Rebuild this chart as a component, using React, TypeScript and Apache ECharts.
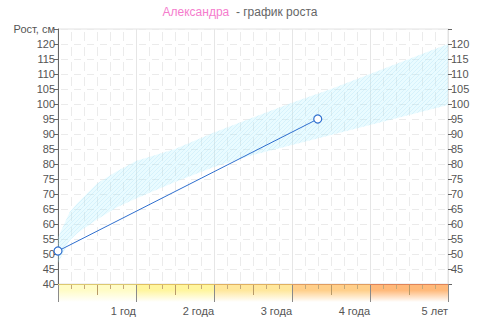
import React, { useEffect, useRef } from "react";
import * as echarts from "echarts";

// Ages in years
const bandAges = [0, 0.15, 0.25, 0.5, 0.75, 1, 1.5, 2, 2.5, 3, 3.5, 4, 4.5, 5];
const bandLower = [47, 54.5, 57, 61.5, 65.5, 68.5, 74, 79, 83, 86.3, 89.7, 93, 96.3, 99.7];
const bandUpper = [55.5, 64, 67, 73.5, 77.5, 81, 85, 90.5, 95.5, 100.4, 105, 110, 115, 120];

const childAges = [0, 3.33];
const childHeights = [51, 95];

const years = [0, 1, 2, 3, 4, 5];
const yearLabels: Record<number, string> = { 1: "1 год", 2: "2 года", 3: "3 года", 4: "4 года", 5: "5 лет" };
const yearColors = ["#fffcc6", "#fff59e", "#ffe79c", "#ffcf8a", "#ffb97a"];
const yearBorderColors = ["#dcc870", "#e0c060", "#e0b060", "#e09c60", "#e08458"];
const halfYears = [0.5, 1.5, 2.5, 3.5, 4.5];
const twoMonthTicks = [1, 2, 4, 5].flatMap((m) => years.slice(0, 5).map((y) => y + m / 6));
const titleName = "Александра";
const titleRest = "  - график роста";
const yName = "Рост, см";

const FONT = "Liberation Sans";

export default function App() {
  const ref = useRef<HTMLDivElement>(null);
  useEffect(() => {
    if (!ref.current) return;
    const chart = echarts.init(ref.current, undefined, { renderer: "svg" });
    const tickLine = (x: number, yEnd: number, color: string) => [
      { coord: [x, 1], lineStyle: { color, width: 1, type: "solid" } },
      { coord: [x, yEnd] },
    ];
    const renderBand = (params: any, api: any) => {
      const up = bandAges.map((a, i) => api.coord([a, bandUpper[i]]));
      const lo = bandAges.map((a, i) => api.coord([a, bandLower[i]])).reverse();
      const pts = up.concat(lo);
      const xs = pts.map((p: number[]) => p[0]);
      const ys = pts.map((p: number[]) => p[1]);
      const minX = Math.min(...xs);
      const maxX = Math.max(...xs);
      const minY = Math.min(...ys);
      const maxY = Math.max(...ys);
      const h = maxY - minY;
      const lines: any[] = [];
      for (let k = minX - h; k <= maxX; k += 4) {
        lines.push({
          type: "line",
          shape: { x1: k, y1: maxY, x2: k + h, y2: minY },
          style: { stroke: "rgba(140,210,240,0.2)", lineWidth: 1 },
        });
      }
      return {
        type: "group",
        children: [
          {
            type: "polygon",
            shape: { points: pts },
            style: { fill: "rgba(175,240,255,0.27)" },
          },
          {
            type: "group",
            clipPath: { type: "polygon", shape: { points: pts } },
            children: lines,
          },
        ],
      };
    };
    const option: any = {
      animation: false,
      textStyle: { fontFamily: FONT },
      title: {
        text: "{a|" + titleName + "}{b|" + titleRest + "}",
        left: "center",
        top: 1,
        textStyle: {
          fontSize: 12,
          fontWeight: "normal",
          rich: {
            a: { color: "#f57ccd", fontSize: 12, fontFamily: FONT },
            b: { color: "#666", fontSize: 12, fontFamily: FONT },
          },
        },
      },
      grid: [
        { left: 58, right: 32, top: 29, height: 255, show: true, borderColor: "#e2e2e2", borderWidth: 1 },
        { left: 58, right: 32, top: 284, height: 18 },
      ],
      xAxis: [
        {
          gridIndex: 0,
          type: "value",
          min: 0,
          max: 5,
          interval: 1,
          axisLine: { show: false },
          axisTick: { show: false },
          axisLabel: { show: false },
          splitLine: { show: true, lineStyle: { color: "#e6e6e6", width: 1 } },
          minorTick: { show: false, splitNumber: 6 },
          minorSplitLine: { show: true, lineStyle: { color: "#ebebeb", type: [9, 6], dashOffset: 12 } },
        },
        {
          gridIndex: 1,
          type: "value",
          min: 0,
          max: 5,
          interval: 1,
          position: "bottom",
          axisLine: { show: false },
          axisTick: { show: false },
          axisLabel: {
            show: true,
            color: "#555",
            fontSize: 11,
            margin: 3,
            align: "right",
            formatter: (v: number) => yearLabels[Math.round(v)] || "",
          },
          splitLine: { show: false },
        },
      ],
      yAxis: [
        {
          gridIndex: 0,
          type: "value",
          min: 40,
          max: 125,
          interval: 5,
          axisLine: { show: true, lineStyle: { color: "#666" } },
          axisTick: { show: true, length: 4, lineStyle: { color: "#666" } },
          axisLabel: {
            color: "#555",
            fontSize: 11,
            margin: 3,
            formatter: (v: number) => (v === 125 ? yName : String(v)),
          },
          splitLine: { show: true, lineStyle: { color: "#ebebeb", type: [7, 6], dashOffset: 10 } },
        },
        {
          gridIndex: 0,
          type: "value",
          position: "right",
          min: 40,
          max: 125,
          interval: 5,
          axisLine: { show: true, lineStyle: { color: "#e2e2e2" } },
          axisTick: { show: true, length: 4, lineStyle: { color: "#666" } },
          axisLabel: {
            color: "#555",
            fontSize: 11,
            margin: 3,
            formatter: (v: number) => (v === 40 || v === 125 ? "" : String(v)),
          },
          splitLine: { show: false },
        },
        {
          gridIndex: 1,
          type: "value",
          min: 0,
          max: 1,
          show: false,
        },
      ],
      series: [
        {
          type: "line",
          xAxisIndex: 1,
          yAxisIndex: 2,
          data: [[0, 0]],
          symbol: "none",
          lineStyle: { opacity: 0 },
          silent: true,
          z: 1,
          markArea: {
            silent: true,
            data: yearColors.map((c, i) => [
              {
                xAxis: years[i],
                yAxis: 0,
                itemStyle: {
                  color: new echarts.graphic.LinearGradient(0, 0, 0, 1, [
                    { offset: 0, color: c },
                    { offset: 0.35, color: c },
                    { offset: 1, color: "#ffffff" },
                  ]),
                },
              },
              { xAxis: years[i + 1], yAxis: 1 },
            ]),
          },
          markLine: {
            silent: true,
            symbol: "none",
            label: { show: false },
            lineStyle: { type: "solid" },
            data: [
              ...twoMonthTicks.map((x) => tickLine(x, 1 - 5 / 18, "#c4a878")),
              ...halfYears.map((x) => tickLine(x, 1 - 11 / 18, "#b89a68")),
              ...years.map((x) => tickLine(x, 0, "#8a8a8a")),
              ...yearBorderColors.map((c, i) => [
                { coord: [years[i], 1], lineStyle: { color: c, width: 1, type: "solid" } },
                { coord: [years[i + 1], 1] },
              ]),
            ],
          },
        },
        {
          type: "custom",
          name: "band",
          xAxisIndex: 0,
          yAxisIndex: 0,
          coordinateSystem: "cartesian2d",
          renderItem: renderBand,
          data: [[0, bandLower[0]]],
          clip: true,
          silent: true,
          z: 2,
        },
        {
          type: "line",
          name: "child",
          xAxisIndex: 0,
          yAxisIndex: 0,
          data: childAges.map((a, i) => [a, childHeights[i]]),
          symbol: "circle",
          symbolSize: 8,
          clip: false,
          lineStyle: { color: "#2f6fcf", width: 1 },
          itemStyle: { color: "#fff", borderColor: "#2f6fcf", borderWidth: 1.2 },
          z: 5,
        },
      ],
    };
    chart.setOption(option);
    return () => chart.dispose();
  }, []);
  return (
    <div
      ref={ref}
      style={{ position: "absolute", left: 0, top: 0, width: 480, height: 328, background: "#fff" }}
    />
  );
}
